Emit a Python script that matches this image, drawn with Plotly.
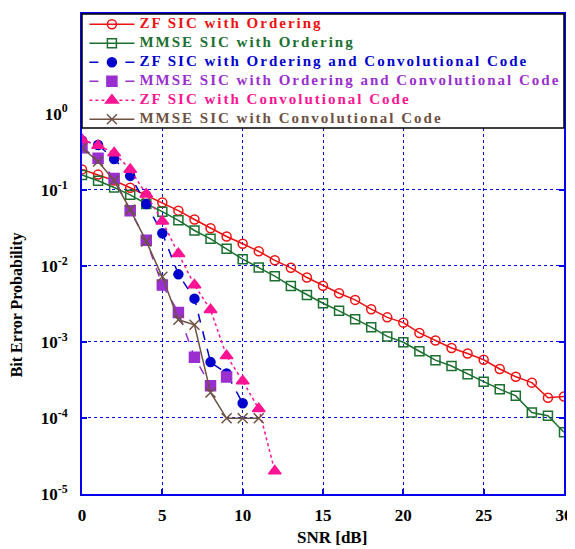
import plotly.graph_objects as go

snr_full = list(range(0, 31))
zf_ord = [0.185, 0.158, 0.132, 0.106, 0.0847, 0.068, 0.0531, 0.0406, 0.0312, 0.0243,
          0.0195, 0.0155, 0.0118, 0.0094, 0.00701, 0.00547, 0.00435, 0.00356, 0.00269, 0.0021,
          0.00179, 0.00131, 0.00104, 0.000832, 0.000703, 0.000581, 0.00044, 0.000348, 0.000291,
          0.000184, 0.000191]
mmse_ord = [0.156, 0.131, 0.107, 0.0857, 0.0651, 0.0515, 0.0396, 0.0291, 0.0226, 0.0168,
            0.0122, 0.00948, 0.00731, 0.00542, 0.00414, 0.00322, 0.00256, 0.00199, 0.00156, 0.00118,
            0.000989, 0.000753, 0.000575, 0.000481, 0.000375, 0.0003, 0.000239, 0.000195, 0.000118,
            0.000107, 0.0000649]
snr_zf_ord_cc = list(range(0, 11))
zf_ord_cc = [0.445, 0.388, 0.253, 0.152, 0.0647, 0.0268, 0.00772, 0.0037, 0.000542, 0.000384, 0.000156]
snr_mmse_ord_cc = list(range(0, 10))
mmse_ord_cc = [0.355, 0.259, 0.14, 0.0531, 0.0216, 0.00558, 0.00243, 0.000629, 0.000264, 0.000345]
snr_zf_cc = list(range(0, 13))
zf_cc = [0.455, 0.38, 0.305, 0.185, 0.0873, 0.0385, 0.0144, 0.00558, 0.00264, 0.000655, 0.000306, 0.000132, 0.00002]
snr_mmse_cc = list(range(0, 12))
mmse_cc = [0.355, 0.235, 0.132, 0.0547, 0.0209, 0.00716, 0.00195, 0.00168, 0.000216, 0.0000989, 0.0000989, 0.0000989]

names = ["ZF SIC with Ordering", "MMSE SIC with Ordering",
         "ZF SIC with Ordering and Convolutional Code",
         "MMSE SIC with Ordering and Convolutional Code",
         "ZF SIC with Convolutional Code", "MMSE SIC with Convolutional Code"]
colors = ["#EE1111", "#1B7030", "#0000CC", "#9A2FD0", "#FF1493", "#6E5244"]

x_ticks = [0, 5, 10, 15, 20, 25, 30]
y_tickvals = [1e-5, 1e-4, 1e-3, 1e-2, 1e-1, 1]
y_ticktext = ["10<sup>-5</sup>", "10<sup>-4</sup>", "10<sup>-3</sup>", "10<sup>-2</sup>",
              "10<sup>-1</sup>", "10<sup>0</sup>"]

series = [
    (snr_full, zf_ord, "solid", "circle-open", 9),
    (snr_full, mmse_ord, "solid", "square-open", 9),
    (snr_zf_ord_cc, zf_ord_cc, "dash", "circle", 9),
    (snr_mmse_ord_cc, mmse_ord_cc, "dash", "square", 10),
    (snr_zf_cc, zf_cc, "dot", "triangle-up", 11),
    (snr_mmse_cc, mmse_cc, "solid", "x-thin-open", 10),
]

fig = go.Figure()
for (xs, ys, dash, sym, sz), name, col in zip(series, names, colors):
    fig.add_trace(go.Scatter(
        x=xs, y=ys, mode="lines+markers",
        name=f"<span style='color:{col};font-size:15px;letter-spacing:2px'>{name}</span>",
        line=dict(color=col, width=1.5, dash=dash),
        marker=dict(symbol=sym, size=sz, color=col, line=dict(color=col, width=1.5)),
    ))

axis_col = "#0000EE"
fig.update_xaxes(
    range=[0, 30], tickvals=x_ticks, showline=True, linecolor=axis_col, linewidth=2,
    mirror="ticks", ticks="inside", ticklen=5, tickcolor=axis_col, tickwidth=1.5,
    showgrid=True, gridcolor=axis_col, griddash="dot", gridwidth=1, zeroline=False,
    tickfont=dict(family="Liberation Serif", size=17, color="black", weight="bold"),
    ticklabelstandoff=5,
)
fig.update_yaxes(
    type="log", range=[-5, 1.31], tickvals=y_tickvals, ticktext=y_ticktext,
    showline=True, linecolor=axis_col, linewidth=2,
    mirror="ticks", ticks="inside", ticklen=5, tickcolor=axis_col, tickwidth=1.5,
    showgrid=True, gridcolor=axis_col, griddash="dot", gridwidth=1, zeroline=False,
    tickfont=dict(family="Liberation Serif", size=17, color="black", weight="bold"),
    ticklabelstandoff=9,
)

fig.add_shape(type="rect", xref="paper", yref="paper", x0=0, x1=1, y0=0.7624, y1=1.0,
              fillcolor="white", line=dict(color="black", width=1.5), layer="above")

fig.add_annotation(text="<b>SNR [dB]</b>", xref="paper", yref="paper", x=0.519, y=-0.091,
                   showarrow=False, xanchor="center", yanchor="middle",
                   font=dict(family="Liberation Serif", size=17, color="black"))
fig.add_annotation(text="<b>Bit Error Probability</b>", xref="paper", yref="paper", x=-0.135, y=0.395,
                   showarrow=False, xanchor="center", yanchor="middle", textangle=-90,
                   font=dict(family="Liberation Serif", size=16, color="black"))

fig.update_layout(
    width=567, height=541,
    margin=dict(l=74, r=11, t=2, b=55),
    paper_bgcolor="white", plot_bgcolor="white",
    showlegend=True,
    legend=dict(x=0.005, y=1.009, xanchor="left", yanchor="top",
                bgcolor="rgba(0,0,0,0)", borderwidth=0,
                font=dict(family="Liberation Serif", size=11, color="black", weight="bold"),
                itemwidth=45, tracegroupgap=0),
)

fig.write_html("out.html")
